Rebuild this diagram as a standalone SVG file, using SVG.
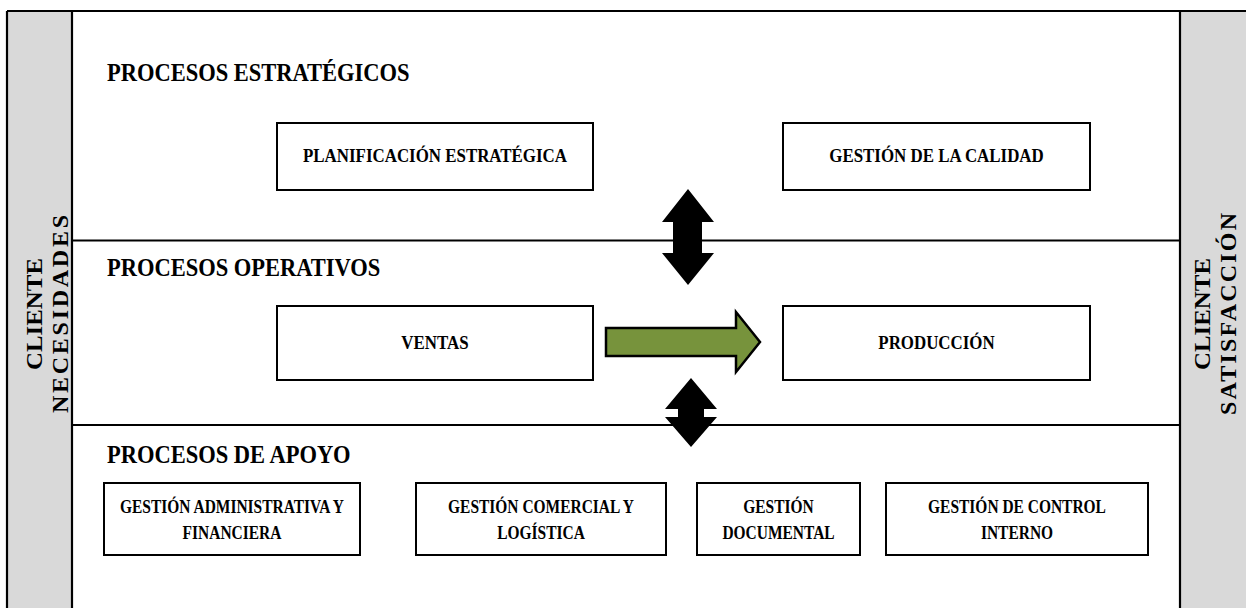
<svg xmlns="http://www.w3.org/2000/svg" width="1246" height="608" viewBox="0 0 1246 608">
<style>
text{font-family:'Liberation Serif','Times New Roman','DejaVu Serif',serif;font-weight:bold;fill:#000}
.h{font-size:25px}
.b{font-size:19px;text-anchor:middle}
.c{font-size:18px;text-anchor:middle}
.s{font-size:24px;text-anchor:middle}
.box{fill:#fff;stroke:#000;stroke-width:2}
.ln{stroke:#000;stroke-width:2.2;fill:none}
</style>
<rect width="1246" height="608" fill="#fff"/>
<g id="frame">
<rect x="7" y="11" width="65" height="600" fill="#d9d9d9"/>
<rect x="1180" y="11" width="70" height="600" fill="#d9d9d9"/>
<path class="ln" d="M7 11 H1246 M7 11 V608 M72 11 V608 M1180 11 V608 M72 240.5 H1180 M72 425 H1180"/>
</g>
<g id="left-side">
<text class="s" transform="translate(42 314) rotate(-90)" textLength="112" lengthAdjust="spacingAndGlyphs">CLIENTE</text>
<text class="s" transform="translate(68 314) rotate(-90)" textLength="198">NECESIDADES</text>
</g>
<g id="right-side">
<text class="s" transform="translate(1210 314) rotate(-90)" textLength="112" lengthAdjust="spacingAndGlyphs">CLIENTE</text>
<text class="s" transform="translate(1236 314) rotate(-90)" textLength="202">SATISFACCIÓN</text>
</g>
<g id="titles">
<text class="h" transform="translate(107 81) scale(0.9 1)">PROCESOS ESTRATÉGICOS</text>
<text class="h" transform="translate(107 276) scale(0.9 1)">PROCESOS OPERATIVOS</text>
<text class="h" transform="translate(107 463) scale(0.9 1)">PROCESOS DE APOYO</text>
</g>
<g id="planificacion"><rect class="box" x="277" y="123" width="316" height="67"/><text class="b" transform="translate(435 162) scale(0.89 1)">PLANIFICACIÓN ESTRATÉGICA</text></g>
<g id="calidad"><rect class="box" x="783" y="123" width="307" height="67"/><text class="b" transform="translate(936.5 162) scale(0.89 1)">GESTIÓN DE LA CALIDAD</text></g>
<g id="ventas"><rect class="box" x="277" y="306" width="316" height="74"/><text class="b" transform="translate(435 349) scale(0.89 1)">VENTAS</text></g>
<g id="produccion"><rect class="box" x="783" y="306" width="307" height="74"/><text class="b" transform="translate(936.5 349) scale(0.89 1)">PRODUCCIÓN</text></g>
<g id="admin"><rect class="box" x="104" y="483" width="256" height="72"/><text class="c" transform="translate(232 513) scale(0.86 1)">GESTIÓN ADMINISTRATIVA Y</text><text class="c" transform="translate(232 539) scale(0.86 1)">FINANCIERA</text></g>
<g id="comercial"><rect class="box" x="416" y="483" width="250" height="72"/><text class="c" transform="translate(541 513) scale(0.86 1)">GESTIÓN COMERCIAL Y</text><text class="c" transform="translate(541 539) scale(0.86 1)">LOGÍSTICA</text></g>
<g id="documental"><rect class="box" x="697" y="483" width="163" height="72"/><text class="c" transform="translate(778.5 513) scale(0.86 1)">GESTIÓN</text><text class="c" transform="translate(778.5 539) scale(0.86 1)">DOCUMENTAL</text></g>
<g id="control"><rect class="box" x="886" y="483" width="262" height="72"/><text class="c" transform="translate(1017 513) scale(0.86 1)">GESTIÓN DE CONTROL</text><text class="c" transform="translate(1017 539) scale(0.86 1)">INTERNO</text></g>
<g id="connectors">
<polygon points="688,189 714,222 702,222 702,253 714,253 688,285 662,253 673,253 673,222 662,222" fill="#000"/>
<polygon points="691,378 717,409 704,409 704,417 717,417 691,447 665,417 678,417 678,409 665,409" fill="#000"/>
<polygon points="606,328 736,328 736,312 760,342 736,372 736,356 606,356" fill="#77933c" stroke="#000" stroke-width="2.5" stroke-linejoin="miter"/>
</g>
</svg>
